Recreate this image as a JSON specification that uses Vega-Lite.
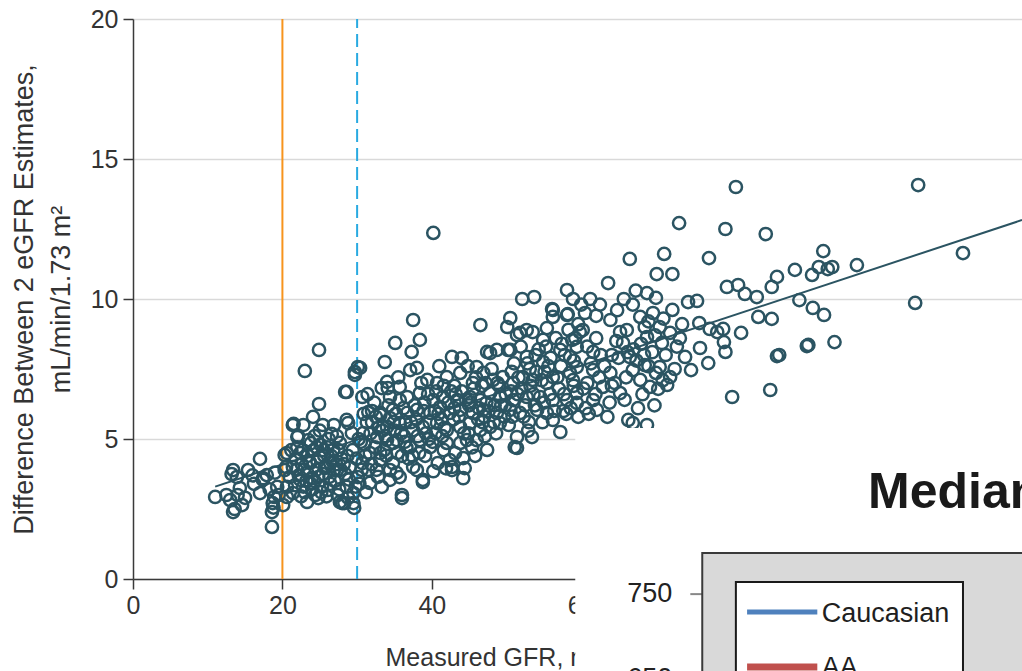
{
"$schema": "https://vega.github.io/schema/vega-lite/v6.json",
"width": 889,
"height": 560,
"autosize": {"type": "none"},
"padding": {"left": 133, "top": 19, "right": 0, "bottom": 92},
"background": "white",
"config": {"view": {"stroke": null}, "font": "Liberation Sans"},
"data": {"values": [
{"gfr":11.0,"diff":2.93},{"gfr":13.4,"diff":3.89},{"gfr":13.9,"diff":3.64},{"gfr":13.2,"diff":3.75},{"gfr":15.4,"diff":3.89},{"gfr":17.0,"diff":4.29},{"gfr":17.9,"diff":3.71},{"gfr":17.4,"diff":3.6},{"gfr":13.0,"diff":2.82},{"gfr":13.4,"diff":2.39},{"gfr":14.6,"diff":2.64},{"gfr":14.3,"diff":3.25},{"gfr":17.0,"diff":3.07},{"gfr":18.6,"diff":1.86},{"gfr":18.6,"diff":2.39},{"gfr":18.7,"diff":2.71},{"gfr":18.9,"diff":2.93},{"gfr":19.3,"diff":3.29},{"gfr":17.4,"diff":3.54},{"gfr":13.6,"diff":2.5},{"gfr":15.0,"diff":2.9},{"gfr":16.2,"diff":3.4},{"gfr":12.5,"diff":3.0},{"gfr":14.0,"diff":3.0},{"gfr":19.0,"diff":3.8},{"gfr":19.5,"diff":3.0},{"gfr":18.3,"diff":3.2},{"gfr":16.0,"diff":3.7},{"gfr":18.8,"diff":2.55},
{"gfr":20.3,"diff":4.43},{"gfr":20.3,"diff":3.89},{"gfr":20.6,"diff":3.29},{"gfr":20.1,"diff":2.64},{"gfr":20.6,"diff":4.5},{"gfr":21.4,"diff":5.5},{"gfr":22.0,"diff":5.07},{"gfr":21.5,"diff":5.54},{"gfr":22.1,"diff":5.11},{"gfr":23.0,"diff":7.43},{"gfr":24.9,"diff":8.18},{"gfr":24.9,"diff":6.25},{"gfr":24.1,"diff":5.79},{"gfr":25.4,"diff":5.5},{"gfr":26.6,"diff":5.18},{"gfr":22.8,"diff":5.5},{"gfr":23.5,"diff":4.96},{"gfr":22.4,"diff":4.5},{"gfr":21.4,"diff":4.0},{"gfr":23.7,"diff":4.14},{"gfr":25.0,"diff":4.36},{"gfr":26.4,"diff":4.14},{"gfr":27.3,"diff":3.89},{"gfr":22.4,"diff":3.54},{"gfr":23.7,"diff":3.43},{"gfr":24.8,"diff":3.64},{"gfr":21.4,"diff":3.07},{"gfr":23.3,"diff":2.75},{"gfr":24.8,"diff":2.89},{"gfr":26.1,"diff":3.18},{"gfr":27.7,"diff":2.75},{"gfr":28.6,"diff":3.29},{"gfr":28.6,"diff":5.68},{"gfr":28.6,"diff":6.68},{"gfr":29.7,"diff":7.39},{"gfr":30.1,"diff":7.57},{"gfr":29.5,"diff":2.71},{"gfr":29.6,"diff":2.54},{"gfr":28.3,"diff":2.71},{"gfr":28.8,"diff":5.57},{"gfr":27.7,"diff":4.86},{"gfr":26.8,"diff":4.61},{"gfr":25.7,"diff":3.96},{"gfr":24.5,"diff":3.89},{"gfr":21.0,"diff":3.64},{"gfr":20.6,"diff":2.93},{"gfr":22.9,"diff":3.9},{"gfr":24.2,"diff":4.6},{"gfr":25.3,"diff":3.3},{"gfr":26.0,"diff":4.7},{"gfr":27.0,"diff":3.5},{"gfr":27.9,"diff":4.3},{"gfr":29.0,"diff":4.0},{"gfr":29.3,"diff":5.21},{"gfr":28.0,"diff":2.71},{"gfr":23.0,"diff":3.1},{"gfr":25.9,"diff":2.95},{"gfr":21.8,"diff":4.3},{"gfr":26.9,"diff":5.5},{"gfr":24.3,"diff":5.1},{"gfr":20.5,"diff":4.0},{"gfr":22.5,"diff":2.95},{"gfr":27.2,"diff":4.1},{"gfr":28.4,"diff":3.75},{"gfr":29.8,"diff":3.3},{"gfr":23.8,"diff":4.85},{"gfr":25.6,"diff":4.4},{"gfr":26.3,"diff":3.65},{"gfr":22.2,"diff":3.7},{"gfr":24.0,"diff":3.2},{"gfr":22.6,"diff":4.1},{"gfr":23.3,"diff":3.8},{"gfr":24.7,"diff":4.2},{"gfr":25.1,"diff":4.8},{"gfr":26.5,"diff":4.4},{"gfr":27.5,"diff":4.6},{"gfr":28.2,"diff":4.1},{"gfr":29.4,"diff":4.6},{"gfr":21.7,"diff":3.35},{"gfr":23.9,"diff":3.6},{"gfr":25.4,"diff":3.75},{"gfr":26.9,"diff":3.9},{"gfr":28.9,"diff":3.55},{"gfr":29.9,"diff":4.3},{"gfr":22.0,"diff":4.7},{"gfr":26.2,"diff":5.0},{"gfr":24.4,"diff":3.0},{"gfr":27.6,"diff":3.2},{"gfr":23.4,"diff":4.4},{"gfr":25.8,"diff":4.05},
{"gfr":21.2,"diff":4.6},{"gfr":22.7,"diff":4.6},{"gfr":23.6,"diff":4.2},{"gfr":24.6,"diff":4.7},{"gfr":25.5,"diff":4.6},{"gfr":26.7,"diff":4.2},{"gfr":27.8,"diff":3.9},{"gfr":28.7,"diff":4.4},{"gfr":21.9,"diff":3.9},{"gfr":23.2,"diff":3.5},{"gfr":24.3,"diff":3.5},{"gfr":25.2,"diff":3.1},{"gfr":26.4,"diff":3.4},{"gfr":27.4,"diff":3.0},{"gfr":28.8,"diff":2.9},{"gfr":22.8,"diff":3.3},{"gfr":25.0,"diff":5.3},{"gfr":27.3,"diff":5.1},
{"gfr":35.1,"diff":8.43},{"gfr":33.7,"diff":7.75},{"gfr":30.4,"diff":7.54},{"gfr":29.7,"diff":7.29},{"gfr":28.4,"diff":6.68},{"gfr":30.7,"diff":6.5},{"gfr":33.3,"diff":6.82},{"gfr":34.1,"diff":6.82},{"gfr":35.7,"diff":6.39},{"gfr":31.5,"diff":5.96},{"gfr":33.1,"diff":5.86},{"gfr":34.4,"diff":5.75},{"gfr":30.8,"diff":5.21},{"gfr":32.7,"diff":5.07},{"gfr":34.0,"diff":4.96},{"gfr":35.3,"diff":4.96},{"gfr":30.7,"diff":4.14},{"gfr":31.7,"diff":4.5},{"gfr":33.1,"diff":4.25},{"gfr":34.4,"diff":3.89},{"gfr":35.7,"diff":3.64},{"gfr":30.1,"diff":3.64},{"gfr":31.7,"diff":3.43},{"gfr":33.3,"diff":3.29},{"gfr":29.5,"diff":3.07},{"gfr":36.0,"diff":2.89},{"gfr":37.5,"diff":9.25},{"gfr":38.4,"diff":8.54},{"gfr":37.3,"diff":8.11},{"gfr":37.1,"diff":7.46},{"gfr":38.0,"diff":7.54},{"gfr":34.0,"diff":7.04},{"gfr":35.7,"diff":6.86},{"gfr":39.4,"diff":7.11},{"gfr":34.4,"diff":6.5},{"gfr":36.7,"diff":6.5},{"gfr":38.4,"diff":6.64},{"gfr":33.1,"diff":5.93},{"gfr":34.8,"diff":6.04},{"gfr":36.7,"diff":5.93},{"gfr":38.0,"diff":6.04},{"gfr":39.8,"diff":5.93},{"gfr":34.0,"diff":5.43},{"gfr":35.7,"diff":5.57},{"gfr":37.5,"diff":5.32},{"gfr":38.8,"diff":5.43},{"gfr":34.8,"diff":4.86},{"gfr":37.1,"diff":4.71},{"gfr":38.4,"diff":4.96},{"gfr":39.8,"diff":4.71},{"gfr":33.1,"diff":4.5},{"gfr":34.8,"diff":4.14},{"gfr":37.5,"diff":4.0},{"gfr":38.8,"diff":3.54},{"gfr":38.0,"diff":3.89},{"gfr":35.3,"diff":3.79},{"gfr":34.4,"diff":3.54},{"gfr":36.0,"diff":3.0},{"gfr":38.8,"diff":3.46},{"gfr":32.0,"diff":5.6},{"gfr":31.0,"diff":4.8},{"gfr":36.3,"diff":5.1},{"gfr":32.3,"diff":6.3},{"gfr":36.0,"diff":4.4},{"gfr":39.0,"diff":6.3},{"gfr":32.6,"diff":3.9},{"gfr":31.2,"diff":3.1},{"gfr":30.5,"diff":4.9},{"gfr":31.8,"diff":5.2},{"gfr":32.9,"diff":5.4},{"gfr":33.8,"diff":5.1},{"gfr":35.0,"diff":5.3},{"gfr":36.5,"diff":5.6},{"gfr":37.9,"diff":5.7},{"gfr":39.2,"diff":5.2},{"gfr":31.3,"diff":5.6},{"gfr":32.4,"diff":4.7},{"gfr":33.6,"diff":4.6},{"gfr":34.9,"diff":5.6},{"gfr":36.2,"diff":6.1},{"gfr":37.7,"diff":6.2},{"gfr":39.5,"diff":6.6},{"gfr":30.9,"diff":5.9},{"gfr":32.0,"diff":6.0},{"gfr":35.4,"diff":4.5},{"gfr":36.9,"diff":4.3},{"gfr":38.3,"diff":4.5},{"gfr":39.6,"diff":5.0},{"gfr":31.5,"diff":3.9},{"gfr":30.3,"diff":3.4},{"gfr":32.8,"diff":3.65},
{"gfr":30.2,"diff":5.0},{"gfr":31.1,"diff":4.4},{"gfr":31.9,"diff":4.1},{"gfr":32.5,"diff":5.8},{"gfr":33.4,"diff":5.3},{"gfr":34.2,"diff":6.2},{"gfr":35.2,"diff":5.9},{"gfr":35.9,"diff":5.2},{"gfr":36.4,"diff":4.9},{"gfr":37.2,"diff":5.6},{"gfr":38.1,"diff":5.1},{"gfr":38.9,"diff":6.0},{"gfr":39.7,"diff":5.6},{"gfr":30.6,"diff":3.9},{"gfr":33.9,"diff":4.4},{"gfr":36.6,"diff":4.7},{"gfr":37.4,"diff":4.4},{"gfr":39.1,"diff":4.4},{"gfr":31.4,"diff":6.6},{"gfr":35.5,"diff":7.2},{"gfr":38.6,"diff":7.0},
{"gfr":40.2,"diff":12.36},{"gfr":46.5,"diff":9.07},{"gfr":42.7,"diff":7.93},{"gfr":44.0,"diff":7.89},{"gfr":46.0,"diff":7.57},{"gfr":47.8,"diff":8.07},{"gfr":48.7,"diff":8.18},{"gfr":47.4,"diff":8.11},{"gfr":40.7,"diff":7.0},{"gfr":42.0,"diff":7.21},{"gfr":43.8,"diff":7.36},{"gfr":45.5,"diff":7.0},{"gfr":46.9,"diff":7.36},{"gfr":48.2,"diff":7.11},{"gfr":49.5,"diff":7.21},{"gfr":40.2,"diff":6.39},{"gfr":41.5,"diff":6.5},{"gfr":43.4,"diff":6.39},{"gfr":45.1,"diff":6.5},{"gfr":46.5,"diff":6.39},{"gfr":47.8,"diff":6.64},{"gfr":49.1,"diff":6.5},{"gfr":41.1,"diff":6.14},{"gfr":42.4,"diff":5.93},{"gfr":43.8,"diff":6.04},{"gfr":45.5,"diff":5.93},{"gfr":46.9,"diff":6.04},{"gfr":48.7,"diff":5.93},{"gfr":40.7,"diff":5.57},{"gfr":42.0,"diff":5.32},{"gfr":43.8,"diff":5.43},{"gfr":45.1,"diff":5.57},{"gfr":46.5,"diff":5.32},{"gfr":47.8,"diff":5.43},{"gfr":49.1,"diff":5.57},{"gfr":42.0,"diff":4.86},{"gfr":43.8,"diff":4.86},{"gfr":44.7,"diff":4.96},{"gfr":46.0,"diff":4.96},{"gfr":47.4,"diff":4.61},{"gfr":40.8,"diff":4.14},{"gfr":42.4,"diff":4.25},{"gfr":42.7,"diff":4.0},{"gfr":44.2,"diff":4.32},{"gfr":44.4,"diff":3.96},{"gfr":42.7,"diff":3.89},{"gfr":44.2,"diff":3.6},{"gfr":40.2,"diff":3.85},{"gfr":41.6,"diff":4.6},{"gfr":44.0,"diff":6.7},{"gfr":41.0,"diff":7.6},{"gfr":43.0,"diff":6.9},{"gfr":45.0,"diff":6.2},{"gfr":47.0,"diff":5.8},{"gfr":49.0,"diff":6.9},{"gfr":40.5,"diff":5.2},{"gfr":45.8,"diff":4.4},{"gfr":41.9,"diff":3.95},{"gfr":40.9,"diff":5.9},{"gfr":41.7,"diff":5.4},{"gfr":42.9,"diff":5.7},{"gfr":44.3,"diff":5.2},{"gfr":45.2,"diff":6.3},{"gfr":46.2,"diff":5.7},{"gfr":47.3,"diff":6.3},{"gfr":48.4,"diff":6.2},{"gfr":49.7,"diff":5.8},{"gfr":43.2,"diff":6.6},{"gfr":46.7,"diff":6.9},{"gfr":48.0,"diff":7.5},{"gfr":44.8,"diff":7.6},{"gfr":41.6,"diff":6.9},{"gfr":49.8,"diff":6.2},{"gfr":40.1,"diff":4.9},{"gfr":43.1,"diff":4.5},{"gfr":45.4,"diff":4.7},{"gfr":48.6,"diff":5.2},{"gfr":47.1,"diff":5.1},
{"gfr":40.4,"diff":6.0},{"gfr":41.3,"diff":5.7},{"gfr":42.2,"diff":6.3},{"gfr":43.0,"diff":6.1},{"gfr":43.6,"diff":5.8},{"gfr":44.6,"diff":6.4},{"gfr":45.6,"diff":6.8},{"gfr":46.3,"diff":6.1},{"gfr":47.6,"diff":6.0},{"gfr":48.3,"diff":5.6},{"gfr":49.3,"diff":6.2},{"gfr":41.4,"diff":5.1},{"gfr":44.9,"diff":5.2},{"gfr":46.8,"diff":5.6},{"gfr":48.8,"diff":7.0},{"gfr":40.6,"diff":6.7},{"gfr":42.6,"diff":6.7},{"gfr":47.2,"diff":7.0},{"gfr":49.9,"diff":6.6},{"gfr":45.9,"diff":7.2},
{"gfr":50.5,"diff":9.32},{"gfr":52.7,"diff":8.89},{"gfr":55.4,"diff":8.96},{"gfr":56.2,"diff":9.61},{"gfr":58.1,"diff":9.43},{"gfr":54.9,"diff":8.54},{"gfr":51.8,"diff":8.79},{"gfr":50.1,"diff":9.0},{"gfr":50.5,"diff":8.18},{"gfr":52.7,"diff":7.93},{"gfr":54.9,"diff":7.75},{"gfr":57.2,"diff":8.18},{"gfr":58.8,"diff":8.54},{"gfr":50.9,"diff":7.0},{"gfr":52.2,"diff":7.21},{"gfr":53.5,"diff":7.11},{"gfr":55.4,"diff":7.0},{"gfr":56.2,"diff":7.21},{"gfr":58.5,"diff":7.36},{"gfr":50.9,"diff":6.39},{"gfr":52.7,"diff":6.5},{"gfr":54.5,"diff":6.5},{"gfr":56.2,"diff":6.39},{"gfr":58.1,"diff":6.39},{"gfr":59.4,"diff":6.64},{"gfr":50.5,"diff":6.04},{"gfr":51.8,"diff":5.93},{"gfr":54.1,"diff":6.04},{"gfr":55.4,"diff":5.93},{"gfr":56.2,"diff":5.68},{"gfr":57.2,"diff":5.25},{"gfr":51.4,"diff":5.07},{"gfr":53.4,"diff":5.07},{"gfr":51.1,"diff":4.71},{"gfr":52.1,"diff":10.0},{"gfr":53.7,"diff":10.07},{"gfr":58.1,"diff":10.32},{"gfr":58.9,"diff":10.0},{"gfr":56.1,"diff":9.64},{"gfr":56.2,"diff":9.36},{"gfr":58.2,"diff":9.46},{"gfr":53.5,"diff":8.82},{"gfr":51.4,"diff":8.71},{"gfr":59.8,"diff":8.82},{"gfr":51.4,"diff":4.68},{"gfr":52.0,"diff":6.8},{"gfr":54.0,"diff":7.4},{"gfr":57.0,"diff":6.8},{"gfr":59.0,"diff":7.8},{"gfr":55.0,"diff":6.3},{"gfr":53.0,"diff":5.6},{"gfr":58.0,"diff":5.9},{"gfr":51.0,"diff":7.7},{"gfr":59.6,"diff":5.79},{"gfr":50.3,"diff":5.5},{"gfr":52.3,"diff":5.8},{"gfr":53.8,"diff":6.2},{"gfr":55.8,"diff":6.6},{"gfr":57.6,"diff":6.0},{"gfr":59.0,"diff":6.9},{"gfr":51.5,"diff":6.6},{"gfr":53.2,"diff":6.9},{"gfr":55.1,"diff":7.4},{"gfr":57.3,"diff":7.6},{"gfr":58.9,"diff":7.1},{"gfr":50.7,"diff":7.4},{"gfr":52.8,"diff":7.7},{"gfr":54.3,"diff":8.2},{"gfr":56.6,"diff":8.6},{"gfr":58.3,"diff":8.9},{"gfr":59.6,"diff":9.1},{"gfr":51.9,"diff":8.3},{"gfr":53.9,"diff":8.0},{"gfr":55.9,"diff":7.9},{"gfr":57.8,"diff":8.0},{"gfr":50.2,"diff":8.18},
{"gfr":50.6,"diff":6.7},{"gfr":51.6,"diff":7.2},{"gfr":52.5,"diff":6.2},{"gfr":53.6,"diff":6.6},{"gfr":54.7,"diff":7.1},{"gfr":55.6,"diff":7.6},{"gfr":56.8,"diff":7.2},{"gfr":57.7,"diff":6.6},{"gfr":58.6,"diff":6.1},{"gfr":50.8,"diff":5.8},{"gfr":52.9,"diff":5.3},{"gfr":54.8,"diff":5.6},{"gfr":56.4,"diff":6.0},{"gfr":53.1,"diff":7.5},{"gfr":55.3,"diff":8.3},{"gfr":57.4,"diff":8.4},{"gfr":59.2,"diff":8.6},
{"gfr":60.2,"diff":8.89},{"gfr":63.9,"diff":9.25},{"gfr":67.9,"diff":9.36},{"gfr":68.5,"diff":9.0},{"gfr":69.6,"diff":9.5},{"gfr":70.5,"diff":9.0},{"gfr":68.8,"diff":8.64},{"gfr":70.8,"diff":8.43},{"gfr":71.9,"diff":8.79},{"gfr":65.6,"diff":8.43},{"gfr":66.5,"diff":7.93},{"gfr":64.1,"diff":8.0},{"gfr":61.6,"diff":8.11},{"gfr":59.4,"diff":8.29},{"gfr":58.5,"diff":7.93},{"gfr":59.4,"diff":7.57},{"gfr":61.6,"diff":7.46},{"gfr":63.9,"diff":7.36},{"gfr":66.9,"diff":7.46},{"gfr":67.9,"diff":7.11},{"gfr":70.5,"diff":7.57},{"gfr":69.2,"diff":6.86},{"gfr":62.9,"diff":6.86},{"gfr":60.8,"diff":7.0},{"gfr":59.4,"diff":6.29},{"gfr":61.6,"diff":6.39},{"gfr":62.1,"diff":6.04},{"gfr":63.5,"diff":5.79},{"gfr":66.3,"diff":5.68},{"gfr":68.8,"diff":5.5},{"gfr":66.9,"diff":5.57},{"gfr":63.6,"diff":10.57},{"gfr":66.5,"diff":11.43},{"gfr":65.2,"diff":8.82},{"gfr":66.1,"diff":8.89},{"gfr":77.1,"diff":11.46},{"gfr":70.1,"diff":10.89},{"gfr":72.2,"diff":10.89},{"gfr":68.8,"diff":10.21},{"gfr":70.0,"diff":10.04},{"gfr":74.3,"diff":9.89},{"gfr":75.5,"diff":9.93},{"gfr":79.5,"diff":10.43},{"gfr":81.0,"diff":10.5},{"gfr":81.9,"diff":10.18},{"gfr":83.5,"diff":10.07},{"gfr":85.5,"diff":10.43},{"gfr":86.2,"diff":10.79},{"gfr":72.2,"diff":9.61},{"gfr":83.7,"diff":9.36},{"gfr":85.5,"diff":9.29},{"gfr":75.8,"diff":9.14},{"gfr":77.2,"diff":8.93},{"gfr":78.2,"diff":8.82},{"gfr":79.0,"diff":8.93},{"gfr":81.4,"diff":8.79},{"gfr":79.1,"diff":8.46},{"gfr":79.3,"diff":8.11},{"gfr":75.9,"diff":8.25},{"gfr":73.9,"diff":7.93},{"gfr":74.7,"diff":7.46},{"gfr":77.0,"diff":7.71},{"gfr":86.5,"diff":8.0},{"gfr":85.3,"diff":6.75},{"gfr":80.2,"diff":6.5},{"gfr":68.5,"diff":7.64},{"gfr":70.0,"diff":7.36},{"gfr":65.2,"diff":6.64},{"gfr":70.3,"diff":6.79},{"gfr":71.5,"diff":6.93},{"gfr":71.9,"diff":7.21},{"gfr":73.1,"diff":12.71},{"gfr":79.3,"diff":12.5},{"gfr":84.7,"diff":12.32},{"gfr":71.1,"diff":11.61},{"gfr":80.7,"diff":14.0},{"gfr":62.5,"diff":9.8},{"gfr":64.5,"diff":7.0},{"gfr":67.0,"diff":8.2},{"gfr":69.5,"diff":8.1},{"gfr":62.0,"diff":8.6},{"gfr":72.8,"diff":8.3},{"gfr":60.5,"diff":9.5},{"gfr":61.0,"diff":5.9},{"gfr":60.8,"diff":8.3},{"gfr":62.6,"diff":8.0},{"gfr":64.7,"diff":8.5},{"gfr":66.2,"diff":8.1},{"gfr":68.0,"diff":8.4},{"gfr":69.9,"diff":8.7},{"gfr":71.3,"diff":8.0},{"gfr":73.2,"diff":8.6},{"gfr":61.3,"diff":7.7},{"gfr":63.1,"diff":7.6},{"gfr":65.0,"diff":7.9},{"gfr":67.4,"diff":7.8},{"gfr":69.0,"diff":7.6},{"gfr":72.5,"diff":7.5},{"gfr":60.3,"diff":6.8},{"gfr":62.4,"diff":7.2},{"gfr":64.1,"diff":6.9},{"gfr":66.0,"diff":7.2},{"gfr":68.2,"diff":6.6},{"gfr":70.9,"diff":7.1},{"gfr":61.9,"diff":6.6},{"gfr":63.8,"diff":6.3},{"gfr":65.8,"diff":6.4},{"gfr":67.6,"diff":6.1},{"gfr":69.8,"diff":6.2},{"gfr":60.0,"diff":9.8},{"gfr":61.2,"diff":10.0},{"gfr":64.8,"diff":9.6},{"gfr":66.9,"diff":9.8},{"gfr":67.3,"diff":10.3},{"gfr":69.0,"diff":9.2},{"gfr":71.0,"diff":9.3},{"gfr":73.5,"diff":9.1},{"gfr":62.0,"diff":9.4},{"gfr":65.7,"diff":10.0},{"gfr":68.4,"diff":8.0},{"gfr":60.6,"diff":6.1},
{"gfr":92.4,"diff":11.71},{"gfr":88.6,"diff":11.04},{"gfr":90.9,"diff":10.86},{"gfr":91.8,"diff":11.14},{"gfr":93.0,"diff":11.07},{"gfr":93.6,"diff":11.14},{"gfr":96.9,"diff":11.21},{"gfr":89.2,"diff":9.96},{"gfr":91.0,"diff":9.68},{"gfr":92.5,"diff":9.43},{"gfr":90.2,"diff":8.32},{"gfr":90.4,"diff":8.36},{"gfr":93.9,"diff":8.46},{"gfr":86.2,"diff":7.96},{"gfr":105.1,"diff":14.07},{"gfr":104.7,"diff":9.86},{"gfr":111.1,"diff":11.64}
]},
"encoding": {
  "x": {"field": "gfr", "type": "quantitative",
    "scale": {"domain": [0, 119], "nice": false, "zero": false},
    "axis": {"title": "Measured GFR, mL/min/1.73 m²", "values": [0, 20, 40, 60, 80, 100], "grid": false,
      "domainColor": "#3a3a3a", "domainWidth": 1.5, "tickColor": "#3a3a3a", "tickWidth": 1.5, "tickSize": 10,
      "labelFont": "Liberation Sans", "labelFontSize": 25, "labelColor": "#333333", "labelPadding": 4, "labelFlush": false, "labelOverlap": false,
      "titleFont": "Liberation Sans", "titleFontSize": 25, "titleFontWeight": "normal", "titleColor": "#333333",
      "titleAnchor": "start", "titleAlign": "left", "titleX": 252, "titleY": 86, "titleBaseline": "alphabetic"}},
  "y": {"field": "diff", "type": "quantitative",
    "scale": {"domain": [0, 20], "nice": false, "zero": false},
    "axis": {"title": ["Difference Between 2 eGFR Estimates,", "mL/min/1.73 m²"], "values": [0, 5, 10, 15, 20], "grid": true,
      "gridColor": "#d9d9d9", "gridWidth": 1.5,
      "domainColor": "#3a3a3a", "domainWidth": 1.5, "tickColor": "#3a3a3a", "tickWidth": 1.5, "tickSize": 10,
      "labelFont": "Liberation Sans", "labelFontSize": 25, "labelColor": "#333333", "labelPadding": 5,
      "titleFont": "Liberation Sans", "titleFontSize": 27, "titleFontWeight": "normal", "titleColor": "#333333",
      "titlePadding": 15, "titleLineHeight": 37}}
},
"layer": [
  {"data": {"values": [{"gfr": 20, "diff": 0, "diff2": 20}]},
   "mark": {"type": "rule", "color": "#f7941d", "strokeWidth": 2},
   "encoding": {"y2": {"field": "diff2"}}},
  {"data": {"values": [{"gfr": 30, "diff": 0, "diff2": 20}]},
   "mark": {"type": "rule", "color": "#29aae1", "strokeWidth": 2, "strokeDash": [13, 6]},
   "encoding": {"y2": {"field": "diff2"}}},
  {"mark": {"type": "point", "shape": "circle", "filled": false, "size": 150, "strokeWidth": 2.5, "color": "#2b5462", "opacity": 1}},
  {"data": {"values": [{"gfr": 11, "diff": 3.3}, {"gfr": 119, "diff": 12.82}]},
   "mark": {"type": "line", "color": "#2b5462", "strokeWidth": 2}},
  {"data": {"values": [{"gfr": 59.2, "gfr2": 130, "diff": 5.39, "diff2": -6}]},
   "mark": {"type": "rect", "fill": "white", "stroke": null},
   "encoding": {"x2": {"field": "gfr2"}, "y2": {"field": "diff2"}}},
  {"data": {"values": [{"gfr": 98.4, "diff": 2.54, "label": "Median"}]},
   "mark": {"type": "text", "align": "left", "baseline": "alphabetic", "font": "Liberation Sans", "fontWeight": "bold", "fontSize": 50, "color": "#1a1a1a"},
   "encoding": {"text": {"field": "label"}}},
  {"data": {"values": [{"gfr": 72.2, "diff": -0.82, "label": "750"}, {"gfr": 72.2, "diff": -3.86, "label": "650"}]},
   "mark": {"type": "text", "align": "right", "baseline": "alphabetic", "font": "Liberation Sans", "fontSize": 27, "color": "#222222"},
   "encoding": {"text": {"field": "label"}}},
  {"data": {"values": [{"gfr": 74.6, "gfr2": 76.3, "diff": -0.54}]},
   "mark": {"type": "rule", "color": "#888888", "strokeWidth": 2},
   "encoding": {"x2": {"field": "gfr2"}}},
  {"data": {"values": [{"gfr": 76.2, "gfr2": 130, "diff": 0.93, "diff2": -6}]},
   "mark": {"type": "rect", "fill": "#d9d9d9", "stroke": "#3a3a3a", "strokeWidth": 2},
   "encoding": {"x2": {"field": "gfr2"}, "y2": {"field": "diff2"}}},
  {"data": {"values": [{"gfr": 80.7, "gfr2": 111.1, "diff": -0.11, "diff2": -6}]},
   "mark": {"type": "rect", "fill": "white", "stroke": "#1a1a1a", "strokeWidth": 2},
   "encoding": {"x2": {"field": "gfr2"}, "y2": {"field": "diff2"}}},
  {"data": {"values": [{"gfr": 82.2, "gfr2": 91.6, "diff": -1.18}]},
   "mark": {"type": "rule", "color": "#4f81bd", "strokeWidth": 5},
   "encoding": {"x2": {"field": "gfr2"}}},
  {"data": {"values": [{"gfr": 82.2, "gfr2": 91.6, "diff": -3.14}]},
   "mark": {"type": "rule", "color": "#c0504d", "strokeWidth": 7},
   "encoding": {"x2": {"field": "gfr2"}}},
  {"data": {"values": [{"gfr": 92.2, "diff": -1.54, "label": "Caucasian"}, {"gfr": 92.2, "diff": -3.48, "label": "AA"}]},
   "mark": {"type": "text", "align": "left", "baseline": "alphabetic", "font": "Liberation Sans", "fontSize": 27, "color": "#1f1f1f"},
   "encoding": {"text": {"field": "label"}}}
]
}
